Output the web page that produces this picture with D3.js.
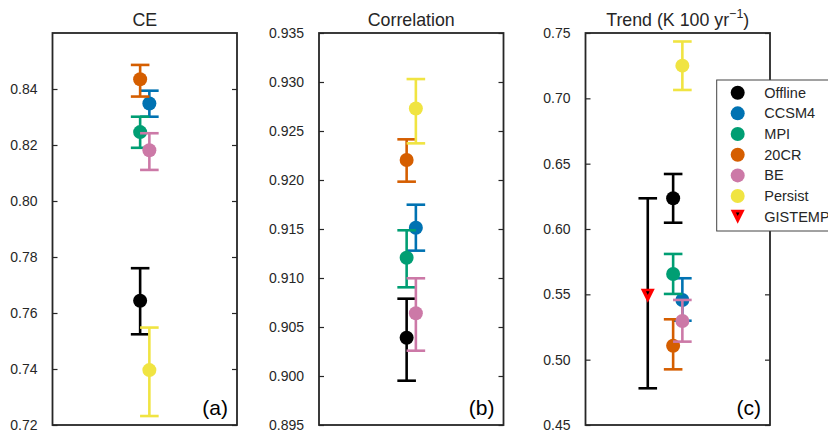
<!DOCTYPE html>
<html><head><meta charset="utf-8">
<script src="https://cdn.jsdelivr.net/npm/d3@7"></script>
<style>
html,body{margin:0;padding:0;background:#fff;}
svg{display:block;font-family:"Liberation Sans",Arial,Helvetica,sans-serif;}
</style></head>
<body>
<svg id="chart" width="828" height="433"></svg>
<script>
// ---- data ----
const series = ["Offline", "CCSM4", "MPI", "20CR", "BE", "Persist"];
const colors = ["#000000", "#0072B2", "#009E73", "#D55E00", "#CC79A7", "#F0E442"];
const xPos = [0.98, 1.02, 0.98, 0.98, 1.02, 1.02];

const ceMean = [0.7644, 0.8348, 0.8246, 0.8435, 0.8181, 0.7396];
const ceLow  = [0.7524, 0.8301, 0.8190, 0.8373, 0.8111, 0.7232];
const ceHigh = [0.7760, 0.8394, 0.8301, 0.8486, 0.8242, 0.7548];

const corrMean = [0.90391, 0.91513, 0.91207, 0.92204, 0.90640, 0.92730];
const corrLow  = [0.89952, 0.91279, 0.90905, 0.91983, 0.90258, 0.92374];
const corrHigh = [0.90789, 0.91748, 0.91487, 0.92415, 0.90997, 0.93030];

const trendMean = [0.6235, 0.5457, 0.5656, 0.5107, 0.5296, 0.7250];
const trendLow  = [0.6048, 0.5298, 0.5503, 0.4926, 0.5138, 0.7064];
const trendHigh = [0.6421, 0.5623, 0.5809, 0.5309, 0.5457, 0.7435];

const gistemp = {name: "GISTEMP", x: 0.87, mean: 0.549, low: 0.4781, high: 0.6235};

const ceTicks = [0.72, 0.74, 0.76, 0.78, 0.80, 0.82, 0.84];
const corrTicks = [0.895, 0.900, 0.905, 0.910, 0.915, 0.920, 0.925, 0.930, 0.935];
const trendTicks = [0.45, 0.50, 0.55, 0.60, 0.65, 0.70, 0.75];

const panels = [
  {title: "CE", label: "(a)", left: 52.5, yDomain: [0.72, 0.86], ticks: ceTicks, fmt: ".2f",
   mean: ceMean, low: ceLow, high: ceHigh, obs: null},
  {title: "Correlation", label: "(b)", left: 319, yDomain: [0.895, 0.935], ticks: corrTicks, fmt: ".3f",
   mean: corrMean, low: corrLow, high: corrHigh, obs: null},
  {title: "Trend", label: "(c)", left: 585.5, yDomain: [0.45, 0.75], ticks: trendTicks, fmt: ".2f",
   mean: trendMean, low: trendLow, high: trendHigh, obs: gistemp}
];

// ---- layout ----
const W = 184.5, plotTop = 33, plotBottom = 425;
const textCol = "#262626";
const svg = d3.select("#chart");

// downward triangle (matplotlib 'v' style), centred on point
const triPath = (s) => `M${-s},${-s}L${s},${-s}L0,${s}Z`;

panels.forEach((p, pi) => {
  const x = d3.scaleLinear().domain([0.6, 1.4]).range([p.left, p.left + W]);
  const y = d3.scaleLinear().domain(p.yDomain).range([plotBottom, plotTop]);
  const g = svg.append("g");

  const cap = 9.3;
  function errbar(xv, lo, hi, color) {
    const cx = x(xv);
    g.append("line").attr("x1", cx).attr("x2", cx).attr("y1", y(lo)).attr("y2", y(hi))
      .attr("stroke", color).attr("stroke-width", 2.6);
    [lo, hi].forEach(v => {
      g.append("line").attr("x1", cx - cap).attr("x2", cx + cap).attr("y1", y(v)).attr("y2", y(v))
        .attr("stroke", color).attr("stroke-width", 2.6);
    });
  }

  if (p.obs) {
    errbar(p.obs.x, p.obs.low, p.obs.high, "#000");
  }
  series.forEach((s, i) => {
    errbar(xPos[i], p.low[i], p.high[i], colors[i]);
    g.append("circle").attr("cx", x(xPos[i])).attr("cy", y(p.mean[i])).attr("r", 7)
      .attr("fill", colors[i]);
  });
  if (p.obs) {
    const cx = x(p.obs.x), cy = y(p.obs.mean);
    g.append("path").attr("d", triPath(7)).attr("fill", "#ff0000")
      .attr("transform", `translate(${cx},${cy})`);
    g.append("path").attr("d", triPath(1.8)).attr("fill", "#000")
      .attr("transform", `translate(${cx},${cy - 2.5})`);
  }

  const axL = d3.axisLeft(y).tickValues(p.ticks).tickFormat(d3.format(p.fmt))
    .tickSizeInner(-5).tickSizeOuter(0).tickPadding(15);
  const gl = svg.append("g").attr("transform", `translate(${p.left},0)`).call(axL);
  gl.select(".domain").remove();
  gl.selectAll(".tick line").attr("stroke", textCol).attr("stroke-width", 1.2);
  gl.selectAll(".tick text").attr("fill", textCol).style("font-size", "14px")
    .style("font-family", '"Liberation Sans",Arial,sans-serif');

  const axR = d3.axisRight(y).tickValues(p.ticks).tickFormat("")
    .tickSizeInner(-5).tickSizeOuter(0);
  const gr = svg.append("g").attr("transform", `translate(${p.left + W},0)`).call(axR);
  gr.select(".domain").remove();
  gr.selectAll(".tick line").attr("stroke", textCol).attr("stroke-width", 1.2);

  svg.append("rect").attr("x", p.left).attr("y", plotTop).attr("width", W).attr("height", plotBottom - plotTop)
    .attr("fill", "none").attr("stroke", textCol).attr("stroke-width", 1.8);

  const t = svg.append("text").attr("x", p.left + W / 2).attr("y", 26).attr("text-anchor", "middle")
    .attr("fill", textCol).style("font-size", "17.8px");
  if (pi === 2) {
    t.append("tspan").text("Trend (K 100 yr");
    t.append("tspan").attr("dy", -8).style("font-size", "12.5px").text("\u22121");
    t.append("tspan").attr("dy", 8).text(")");
  } else {
    t.text(p.title);
  }

  svg.append("text").attr("x", p.left + W - 9).attr("y", 415).attr("text-anchor", "end")
    .attr("fill", "#000").style("font-size", "21px").text(p.label);
});

// ---- legend ----
const lg = svg.append("g");
lg.append("rect").attr("x", 716.7).attr("y", 80).attr("width", 130).attr("height", 151)
  .attr("fill", "#fff").attr("stroke", "#444").attr("stroke-width", 1);
const rowY = i => 92.7 + i * 20.67;
series.forEach((s, i) => {
  lg.append("circle").attr("cx", 737.7).attr("cy", rowY(i)).attr("r", 7).attr("fill", colors[i]);
  lg.append("text").attr("x", 764.3).attr("y", rowY(i)).attr("dy", "0.35em")
    .attr("fill", textCol).style("font-size", "14.5px").text(s);
});
{
  const i = series.length;
  lg.append("path").attr("d", triPath(7)).attr("fill", "#ff0000")
    .attr("transform", `translate(737.7,${rowY(i)})`);
  lg.append("path").attr("d", triPath(1.8)).attr("fill", "#000")
    .attr("transform", `translate(737.7,${rowY(i) - 2.5})`);
  lg.append("text").attr("x", 764.3).attr("y", rowY(i)).attr("dy", "0.35em")
    .attr("fill", textCol).style("font-size", "14.5px").text(gistemp.name);
}
</script>
</body></html>
